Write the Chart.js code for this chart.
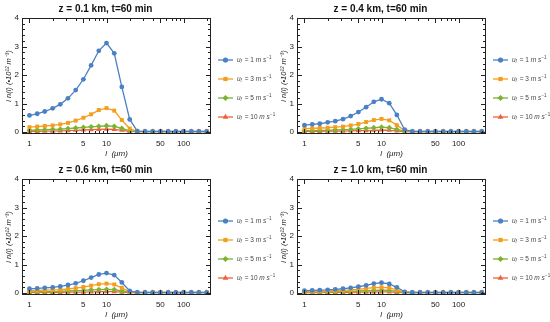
<!DOCTYPE html>
<html>
<head>
<meta charset="utf-8">
<script src="https://cdn.jsdelivr.net/npm/chart.js@4.4.1/dist/chart.umd.min.js"></script>
<style>
  html, body { margin: 0; padding: 0; background: #fff; }
  #wrap { position: relative; width: 550px; height: 322px; }
  .panel { position: absolute; width: 275px; height: 161px; }
</style>
</head>
<body>
<div id="wrap">
  <div class="panel" style="left:0;top:0"><canvas id="c1" width="275" height="161"></canvas></div>
  <div class="panel" style="left:275px;top:0"><canvas id="c2" width="275" height="161"></canvas></div>
  <div class="panel" style="left:0;top:161px"><canvas id="c3" width="275" height="161"></canvas></div>
  <div class="panel" style="left:275px;top:161px"><canvas id="c4" width="275" height="161"></canvas></div>
</div>
<script>
// droplet size l (um), one point every 0.1 decade
const sizes = [1, 1.26, 1.58, 2, 2.51, 3.16, 3.98, 5.01, 6.31, 7.94, 10, 12.6, 15.8, 20, 25.1, 31.6, 39.8, 50.1, 63.1, 79.4, 100, 126, 158, 200];
const xTickValues = [1, 2, 3, 4, 5, 6, 7, 8, 9, 10, 20, 30, 40, 50, 60, 70, 80, 90, 100, 200];
const xTickLabels = [1, 5, 10, 50, 100];
const yTickValues = [0, 1, 2, 3, 4];
const windSpeeds = ['1', '3', '5', '10'];

// z = 0.1 km
const z01_u1 = [0.58, 0.64, 0.72, 0.83, 0.97, 1.18, 1.47, 1.85, 2.34, 2.85, 3.12, 2.76, 1.58, 0.44, 0.03, 0.02, 0.02, 0.02, 0.02, 0.02, 0.02, 0.02, 0.02, 0.02];
const z01_u3 = [0.17, 0.19, 0.21, 0.23, 0.27, 0.32, 0.40, 0.50, 0.62, 0.77, 0.84, 0.75, 0.42, 0.12, 0.02, 0.02, 0.02, 0.02, 0.02, 0.02, 0.02, 0.02, 0.02, 0.02];
const z01_u5 = [0.06, 0.07, 0.08, 0.09, 0.10, 0.12, 0.14, 0.16, 0.18, 0.20, 0.22, 0.20, 0.13, 0.04, 0.01, 0.01, 0.01, 0.01, 0.01, 0.01, 0.01, 0.01, 0.01, 0.01];
const z01_u10 = [0.02, 0.02, 0.03, 0.03, 0.04, 0.05, 0.06, 0.07, 0.08, 0.09, 0.10, 0.09, 0.06, 0.02, 0.01, 0.01, 0.01, 0.01, 0.01, 0.01, 0.01, 0.01, 0.01, 0.01];

// z = 0.4 km
const z04_u1 = [0.24, 0.27, 0.29, 0.34, 0.38, 0.45, 0.56, 0.70, 0.87, 1.06, 1.15, 1.01, 0.60, 0.08, 0.02, 0.02, 0.02, 0.02, 0.02, 0.02, 0.02, 0.02, 0.02, 0.02];
const z04_u3 = [0.12, 0.13, 0.14, 0.15, 0.17, 0.19, 0.23, 0.28, 0.35, 0.42, 0.46, 0.41, 0.24, 0.05, 0.02, 0.02, 0.02, 0.02, 0.02, 0.02, 0.02, 0.02, 0.02, 0.02];
const z04_u5 = [0.05, 0.05, 0.06, 0.06, 0.07, 0.08, 0.09, 0.11, 0.13, 0.15, 0.17, 0.15, 0.09, 0.02, 0.01, 0.01, 0.01, 0.01, 0.01, 0.01, 0.01, 0.01, 0.01, 0.01];
const z04_u10 = [0.02, 0.02, 0.02, 0.03, 0.03, 0.03, 0.04, 0.05, 0.05, 0.06, 0.07, 0.06, 0.04, 0.01, 0.01, 0.01, 0.01, 0.01, 0.01, 0.01, 0.01, 0.01, 0.01, 0.01];

// z = 0.6 km
const z06_u1 = [0.15, 0.16, 0.18, 0.20, 0.23, 0.28, 0.34, 0.43, 0.54, 0.65, 0.70, 0.63, 0.37, 0.07, 0.02, 0.02, 0.02, 0.02, 0.02, 0.02, 0.02, 0.02, 0.02, 0.02];
const z06_u3 = [0.08, 0.09, 0.10, 0.11, 0.12, 0.14, 0.17, 0.21, 0.26, 0.31, 0.33, 0.30, 0.18, 0.04, 0.02, 0.02, 0.02, 0.02, 0.02, 0.02, 0.02, 0.02, 0.02, 0.02];
const z06_u5 = [0.04, 0.04, 0.05, 0.05, 0.06, 0.07, 0.08, 0.09, 0.11, 0.12, 0.13, 0.12, 0.07, 0.02, 0.01, 0.01, 0.01, 0.01, 0.01, 0.01, 0.01, 0.01, 0.01, 0.01];
const z06_u10 = [0.01, 0.02, 0.02, 0.02, 0.02, 0.03, 0.03, 0.03, 0.04, 0.05, 0.05, 0.05, 0.03, 0.01, 0.01, 0.01, 0.01, 0.01, 0.01, 0.01, 0.01, 0.01, 0.01, 0.01];

// z = 1.0 km
const z10_u1 = [0.08, 0.09, 0.10, 0.11, 0.13, 0.15, 0.18, 0.22, 0.27, 0.33, 0.36, 0.32, 0.20, 0.04, 0.02, 0.02, 0.02, 0.02, 0.02, 0.02, 0.02, 0.02, 0.02, 0.02];
const z10_u3 = [0.05, 0.05, 0.06, 0.07, 0.08, 0.09, 0.11, 0.13, 0.16, 0.19, 0.20, 0.18, 0.11, 0.02, 0.02, 0.02, 0.02, 0.02, 0.02, 0.02, 0.02, 0.02, 0.02, 0.02];
const z10_u5 = [0.03, 0.03, 0.03, 0.04, 0.04, 0.05, 0.06, 0.07, 0.08, 0.09, 0.10, 0.09, 0.06, 0.01, 0.01, 0.01, 0.01, 0.01, 0.01, 0.01, 0.01, 0.01, 0.01, 0.01];
const z10_u10 = [0.01, 0.01, 0.01, 0.02, 0.02, 0.02, 0.02, 0.03, 0.03, 0.04, 0.04, 0.04, 0.02, 0.01, 0.01, 0.01, 0.01, 0.01, 0.01, 0.01, 0.01, 0.01, 0.01, 0.01];

const colors = ['#4a80c4', '#f59d1e', '#7db233', '#f0603a'];
const markers = ['circle', 'rect', 'rectRot', 'triangle'];
const markerSize = [2.4, 2.8, 2.9, 3.1];
const FONT = "'Liberation Sans', Arial, sans-serif";

// frame with inward ticks on all four sides, filled as 1px rectangles
function drawFrame(chart) {
  const { ctx, chartArea: a } = chart;
  const x = chart.scales.x, y = chart.scales.y;
  const L = Math.round(a.left), R = Math.round(a.right) - 1;
  const T = Math.round(a.top), B = Math.round(a.bottom) - 1;
  ctx.save();
  ctx.globalAlpha = 1;
  ctx.globalCompositeOperation = 'source-over';
  ctx.fillStyle = '#222';
  ctx.fillRect(L, T, R - L + 1, 1);
  ctx.fillRect(L, B, R - L + 1, 1);
  ctx.fillRect(L, T, 1, B - T + 1);
  ctx.fillRect(R, T, 1, B - T + 1);
  xTickValues.forEach(v => {
    const px = Math.round(x.getPixelForValue(v));
    const len = xTickLabels.includes(v) ? 4 : 2;
    ctx.fillRect(px, B - len, 1, len);
    ctx.fillRect(px, T + 1, 1, len);
  });
  for (let i = 0; i <= 20; i++) {
    const py = Math.round(y.getPixelForValue(i / 5));
    const len = i % 5 === 0 ? 4 : 2;
    ctx.fillRect(L + 1, py, len, 1);
    ctx.fillRect(R - len, py, len, 1);
  }
  ctx.restore();
}

function drawMarker(ctx, style, r, cx, cy) {
  ctx.beginPath();
  if (style === 'circle') {
    ctx.arc(cx, cy, r, 0, Math.PI * 2);
  } else if (style === 'rect') {
    const s = r * Math.SQRT1_2;
    ctx.rect(cx - s, cy - s, 2 * s, 2 * s);
  } else if (style === 'rectRot') {
    ctx.moveTo(cx, cy - r); ctx.lineTo(cx + r, cy); ctx.lineTo(cx, cy + r); ctx.lineTo(cx - r, cy);
    ctx.closePath();
  } else {
    ctx.moveTo(cx, cy - r); ctx.lineTo(cx + r * 0.87, cy + r * 0.5); ctx.lineTo(cx - r * 0.87, cy + r * 0.5);
    ctx.closePath();
  }
  ctx.fill();
}

// legend to the right of the frame, with u_f subscript and s^-1 superscript
function drawSideLegend(chart) {
  const { ctx, chartArea: a } = chart;
  const x0 = a.right + 7;
  ctx.save();
  chart.data.datasets.forEach((ds, i) => {
    const yy = a.top + 42 + i * 19;
    ctx.strokeStyle = ds.borderColor;
    ctx.fillStyle = ds.borderColor;
    ctx.lineWidth = 1.3;
    ctx.beginPath();
    ctx.moveTo(x0, yy); ctx.lineTo(x0 + 15, yy);
    ctx.stroke();
    drawMarker(ctx, markers[i], markerSize[i] + 0.2, x0 + 7.5, yy);

    let tx = x0 + 19;
    ctx.fillStyle = '#444';
    ctx.textBaseline = 'middle';
    ctx.font = 'italic 6.5px ' + FONT;
    ctx.fillText('u', tx, yy); tx += ctx.measureText('u').width;
    ctx.font = 'italic 4.5px ' + FONT;
    ctx.fillText('f', tx, yy + 1.8); tx += ctx.measureText('f').width + 1;
    ctx.font = '6.5px ' + FONT;
    const mid = ' = ' + windSpeeds[i] + ' ';
    ctx.fillText(mid, tx, yy); tx += ctx.measureText(mid).width;
    ctx.font = 'italic 6.5px ' + FONT;
    ctx.fillText('m s', tx, yy); tx += ctx.measureText('m s').width + 0.3;
    ctx.font = '4.5px ' + FONT;
    ctx.fillText('\u22121', tx, yy - 2.5);
  });
  ctx.restore();
}

const panelDecor = {
  id: 'panelDecor',
  afterDraw(chart) {
    drawSideLegend(chart);
    drawFrame(chart);
  }
};

function makePanel(id, title, series) {
  const datasets = series.map((vals, i) => ({
    label: 'u_f = ' + windSpeeds[i] + ' m s-1',
    data: vals.map((v, k) => ({ x: sizes[k], y: v })),
    borderColor: colors[i],
    backgroundColor: colors[i],
    borderWidth: 1.3,
    tension: 0,
    pointStyle: markers[i],
    pointRadius: markerSize[i],
    pointBorderWidth: 0,
    pointHoverRadius: markerSize[i]
  }));

  new Chart(document.getElementById(id), {
    type: 'line',
    data: { datasets },
    options: {
      responsive: false,
      animation: false,
      events: [],
      layout: { padding: { left: 0, right: 64, top: 1, bottom: 0 } },
      plugins: {
        legend: { display: false },
        tooltip: { enabled: false },
        title: {
          display: true,
          text: title,
          color: '#111',
          font: { family: FONT, size: 10, weight: 'bold' },
          padding: { top: 2, bottom: 3 }
        }
      },
      scales: {
        x: {
          type: 'logarithmic',
          min: 0.8,
          max: 227,
          afterBuildTicks: s => { s.ticks = xTickValues.map(v => ({ value: v })); },
          afterFit: s => { s.height = 27; },
          grid: { display: false, drawTicks: false },
          border: { display: false },
          ticks: {
            autoSkip: false,
            maxRotation: 0,
            padding: 5,
            color: '#222',
            font: { family: FONT, size: 8 },
            callback: v => xTickLabels.includes(v) ? String(v) : ''
          },
          title: {
            display: true,
            text: 'l  (\u03bcm)',
            color: '#222',
            font: { family: FONT, size: 8, style: 'italic' },
            padding: { top: 0, bottom: 2 }
          }
        },
        y: {
          min: -0.07,
          max: 4,
          afterBuildTicks: s => { s.ticks = yTickValues.map(v => ({ value: v })); },
          afterFit: s => { s.width = 22; },
          grid: { display: false, drawTicks: false },
          border: { display: false },
          ticks: {
            padding: 3,
            color: '#222',
            font: { family: FONT, size: 8 }
          },
          title: {
            display: true,
            text: 'l n(l) (\u202210\u00b9\u00b2 m\u207b\u00b3)',
            color: '#222',
            font: { family: FONT, size: 7.5, style: 'italic' },
            padding: { top: 4, bottom: 0 }
          }
        }
      }
    },
    plugins: [panelDecor]
  });
}

makePanel('c1', 'z = 0.1 km, t=60 min', [z01_u1, z01_u3, z01_u5, z01_u10]);
makePanel('c2', 'z = 0.4 km, t=60 min', [z04_u1, z04_u3, z04_u5, z04_u10]);
makePanel('c3', 'z = 0.6 km, t=60 min', [z06_u1, z06_u3, z06_u5, z06_u10]);
makePanel('c4', 'z = 1.0 km, t=60 min', [z10_u1, z10_u3, z10_u5, z10_u10]);
</script>
</body>
</html>
